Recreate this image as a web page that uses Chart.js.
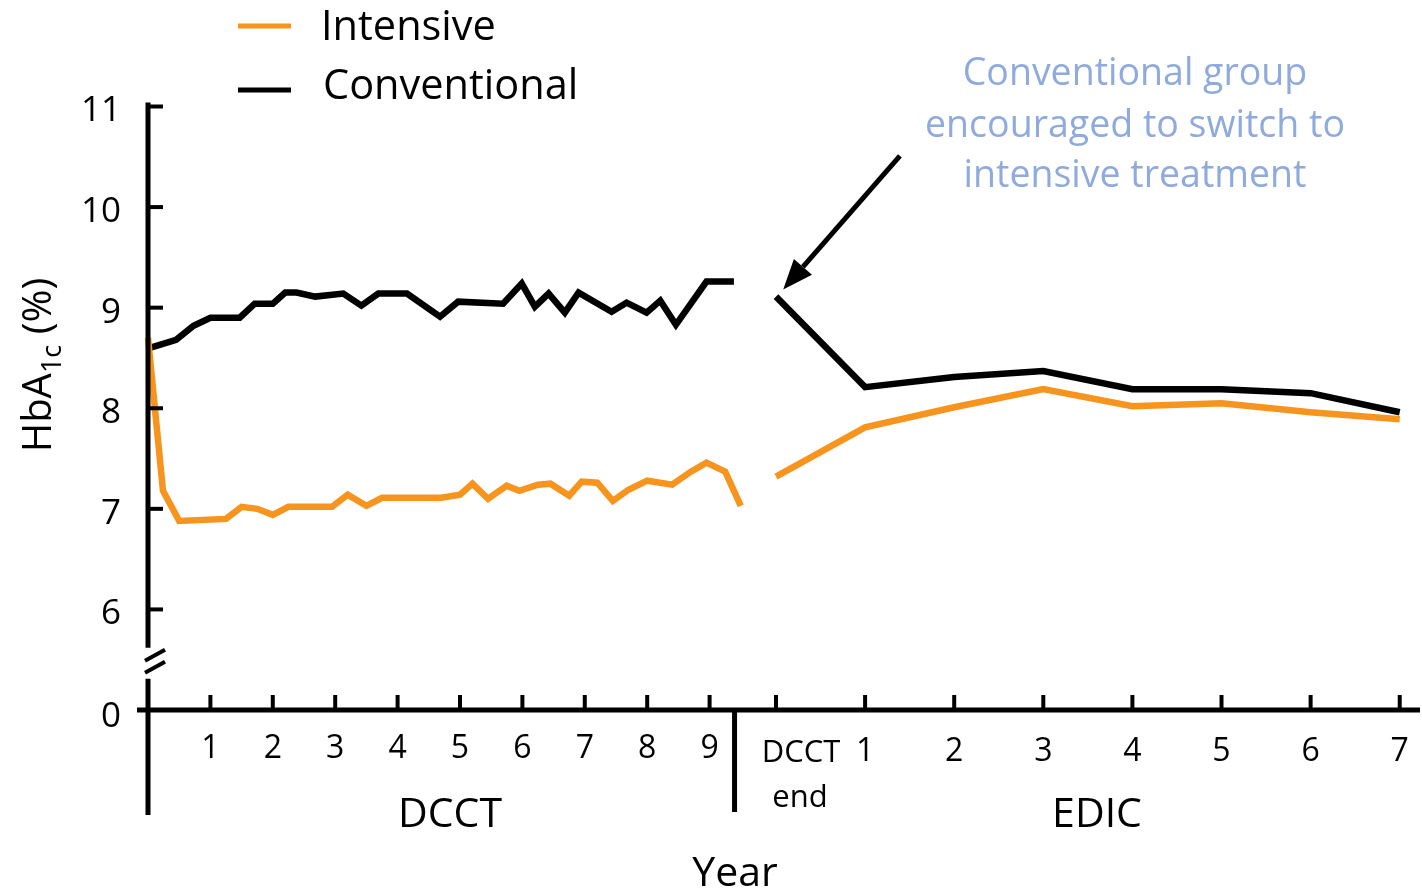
<!DOCTYPE html>
<html>
<head>
<meta charset="utf-8">
<script src="https://cdn.jsdelivr.net/npm/chart.js@4.4.0/dist/chart.umd.min.js"></script>
<style>
  html, body { margin: 0; padding: 0; background: #fff; }
</style>
</head>
<body>
<canvas id="hbaChart" width="1422" height="892"></canvas>
<script>
// DCCT phase (years since start, HbA1c %)
const dcctIntYears = [0, 0.24, 0.5, 1.25, 1.5, 1.75, 2.0, 2.25, 2.95, 3.2, 3.5, 3.75, 4.7, 5.0, 5.2, 5.45,
  5.75, 5.95, 6.25, 6.45, 6.75, 6.95, 7.2, 7.45, 7.7, 8.0, 8.4, 8.7, 8.95, 9.25, 9.5];
const dcctIntValues = [8.70, 7.18, 6.88, 6.90, 7.02, 7.00, 6.94, 7.02, 7.02, 7.14, 7.03, 7.11, 7.11, 7.14, 7.25, 7.10,
  7.23, 7.18, 7.24, 7.25, 7.13, 7.27, 7.26, 7.08, 7.19, 7.28, 7.24, 7.37, 7.46, 7.37, 7.03];

const dcctConvYears = [0.03, 0.45, 0.73, 1.0, 1.47, 1.71, 2.0, 2.2, 2.38, 2.68, 3.13, 3.42, 3.69, 4.15, 4.68, 4.97,
  5.69, 5.99, 6.2, 6.42, 6.68, 6.9, 7.43, 7.67, 7.99, 8.21, 8.46, 8.95, 9.39];
const dcctConvValues = [8.60, 8.68, 8.82, 8.90, 8.90, 9.04, 9.04, 9.15, 9.15, 9.11, 9.14, 9.02, 9.14, 9.14, 8.91, 9.06,
  9.04, 9.24, 9.01, 9.14, 8.95, 9.15, 8.96, 9.05, 8.95, 9.07, 8.83, 9.26, 9.26];

// EDIC phase (year 0 = DCCT end)
const edicYears = [0, 1, 2, 3, 4, 5, 6, 7];
const edicIntValues = [7.32, 7.81, 8.01, 8.19, 8.02, 8.05, 7.96, 7.89];
const edicConvValues = [9.11, 8.21, 8.31, 8.37, 8.19, 8.19, 8.15, 7.96];

// tick labels
const yTickValues = [6, 7, 8, 9, 10, 11];
const dcctTickYears = [1, 2, 3, 4, 5, 6, 7, 8, 9];
const edicTickYears = [1, 2, 3, 4, 5, 6, 7];

const ORANGE = '#F7941D';
const BLUE_TEXT = '#8FAADC';
const SANS = "'Open Sans', 'Noto Sans', sans-serif";

// x axis is measured in DCCT years; EDIC years are squeezed in after the divider
const DIVIDER_X = 9.4;
const EDIC_ORIGIN = 10.064;
const EDIC_STEP = 1.428;
const BREAK_VALUE = 5; // y position that stands for "0" below the axis break

function edicPos(e) { return EDIC_ORIGIN + e * EDIC_STEP; }

function buildSeries(years, values, edicValues) {
  const pts = years.map((yr, i) => ({ x: yr, y: values[i] }));
  pts.push({ x: DIVIDER_X + 0.3, y: null });
  edicYears.forEach((e, i) => pts.push({ x: edicPos(e), y: edicValues[i] }));
  return pts;
}

function seg(ctx, x1, y1, x2, y2) {
  ctx.beginPath();
  ctx.moveTo(x1, y1);
  ctx.lineTo(x2, y2);
  ctx.stroke();
}

const decorPlugin = {
  id: 'decor',
  afterDatasetsDraw(chart) {
    const ctx = chart.ctx;
    const x = chart.scales.x, y = chart.scales.y;
    const x0 = x.getPixelForValue(0);
    const yBase = y.getPixelForValue(BREAK_VALUE);

    ctx.save();
    ctx.strokeStyle = '#000';
    ctx.fillStyle = '#000';
    ctx.lineCap = 'butt';

    // y axis with break
    ctx.lineWidth = 5;
    seg(ctx, x0, y.getPixelForValue(11) - 4, x0, y.getPixelForValue(5.62));
    seg(ctx, x0, y.getPixelForValue(5.31), x0, yBase + 105);
    ctx.lineWidth = 4;
    seg(ctx, x0 - 3, y.getPixelForValue(5.49), x0 + 17, y.getPixelForValue(5.60));
    seg(ctx, x0 - 3, y.getPixelForValue(5.37), x0 + 17, y.getPixelForValue(5.48));

    // y ticks (inside)
    yTickValues.forEach(v => seg(ctx, x0, y.getPixelForValue(v), x0 + 15, y.getPixelForValue(v)));

    // x axis
    ctx.lineWidth = 5;
    seg(ctx, x0 - 11, yBase, x.right, yBase);
    ctx.lineWidth = 4;
    dcctTickYears.forEach(v => seg(ctx, x.getPixelForValue(v), yBase, x.getPixelForValue(v), yBase - 15));
    edicYears.forEach(e => seg(ctx, x.getPixelForValue(edicPos(e)), yBase, x.getPixelForValue(edicPos(e)), yBase - 15));

    // DCCT / EDIC divider
    const xd = x.getPixelForValue(DIVIDER_X);
    ctx.lineWidth = 5;
    seg(ctx, xd, yBase, xd, yBase + 102);

    // y tick labels
    ctx.font = '35px ' + SANS;
    ctx.textAlign = 'right';
    ctx.textBaseline = 'middle';
    yTickValues.forEach(v => ctx.fillText(String(v), 121, y.getPixelForValue(v) + 5));
    ctx.fillText('0', 121, yBase + 7);

    // x tick labels
    ctx.textAlign = 'center';
    ctx.font = '32px ' + SANS;
    dcctTickYears.forEach(v => ctx.fillText(String(v), x.getPixelForValue(v), yBase + 39));
    edicTickYears.forEach(e => ctx.fillText(String(e), x.getPixelForValue(edicPos(e)), yBase + 42));
    ctx.font = '31px ' + SANS;
    ctx.fillText('DCCT', 801, yBase + 43);
    ctx.fillText('end', 800, yBase + 88);

    // group labels and axis title
    ctx.font = '41px ' + SANS;
    ctx.fillText('DCCT', 450, yBase + 105);
    ctx.fillText('EDIC', 1097, yBase + 105);
    ctx.fillText('Year', 735, yBase + 164);

    // y axis title with subscript
    ctx.save();
    ctx.translate(40, 365);
    ctx.rotate(-Math.PI / 2);
    ctx.textAlign = 'left';
    const big = '40px ' + SANS, small = '27px ' + SANS;
    ctx.font = big; const w1 = ctx.measureText('HbA').width;
    ctx.font = small; const w2 = ctx.measureText('1c').width;
    ctx.font = big; const w3 = ctx.measureText(' (%)').width;
    let tx = -(w1 + w2 + w3) / 2;
    ctx.font = big; ctx.fillText('HbA', tx, 0); tx += w1;
    ctx.font = small; ctx.fillText('1c', tx, 13); tx += w2;
    ctx.font = big; ctx.fillText(' (%)', tx, 0);
    ctx.restore();

    // legend
    ctx.lineWidth = 5;
    ctx.strokeStyle = ORANGE;
    seg(ctx, 238, 26, 291, 26);
    ctx.strokeStyle = '#000';
    seg(ctx, 238, 90, 291, 90);
    ctx.textAlign = 'left';
    ctx.font = '41.5px ' + SANS;
    ctx.fillText('Intensive', 321, 28);
    ctx.fillText('Conventional', 323, 87);

    // annotation text
    ctx.fillStyle = BLUE_TEXT;
    ctx.textAlign = 'center';
    ctx.font = '37.5px ' + SANS;
    ctx.fillText('Conventional group', 1135, 74);
    ctx.fillText('encouraged to switch to', 1135, 126);
    ctx.fillText('intensive treatment', 1135, 176);

    // arrow pointing at the EDIC start of the conventional line
    const tailX = x.getPixelForValue(12.05), tailY = y.getPixelForValue(10.51);
    const tipX = x.getPixelForValue(10.18), tipY = y.getPixelForValue(9.18);
    const ang = Math.atan2(tipY - tailY, tipX - tailX);
    const headLen = 30, headHalf = 12;
    const bx = tipX - headLen * Math.cos(ang), by = tipY - headLen * Math.sin(ang);
    ctx.strokeStyle = '#000';
    ctx.fillStyle = '#000';
    ctx.lineWidth = 5;
    seg(ctx, tailX, tailY, bx, by);
    ctx.beginPath();
    ctx.moveTo(tipX, tipY);
    ctx.lineTo(bx + headHalf * Math.sin(ang), by - headHalf * Math.cos(ang));
    ctx.lineTo(bx - headHalf * Math.sin(ang), by + headHalf * Math.cos(ang));
    ctx.closePath();
    ctx.fill();

    ctx.restore();
  }
};

new Chart(document.getElementById('hbaChart'), {
  type: 'line',
  data: {
    datasets: [
      {
        label: 'Intensive',
        data: buildSeries(dcctIntYears, dcctIntValues, edicIntValues),
        borderColor: ORANGE,
        borderWidth: 6.5,
        clip: false
      },
      {
        label: 'Conventional',
        data: buildSeries(dcctConvYears, dcctConvValues, edicConvValues),
        borderColor: '#000',
        borderWidth: 6.5,
        clip: false
      }
    ]
  },
  options: {
    responsive: false,
    devicePixelRatio: 1,
    animation: false,
    layout: { padding: { left: 148, right: 2, top: 106.5, bottom: 182 } },
    elements: {
      point: { radius: 0 },
      line: { tension: 0, borderCapStyle: 'butt', borderJoinStyle: 'miter' }
    },
    spanGaps: false,
    scales: {
      x: { type: 'linear', min: 0, max: 20.385, display: false },
      y: { type: 'linear', min: BREAK_VALUE, max: 11, display: false }
    },
    plugins: {
      legend: { display: false },
      tooltip: { enabled: false }
    }
  },
  plugins: [decorPlugin]
});
</script>
</body>
</html>
